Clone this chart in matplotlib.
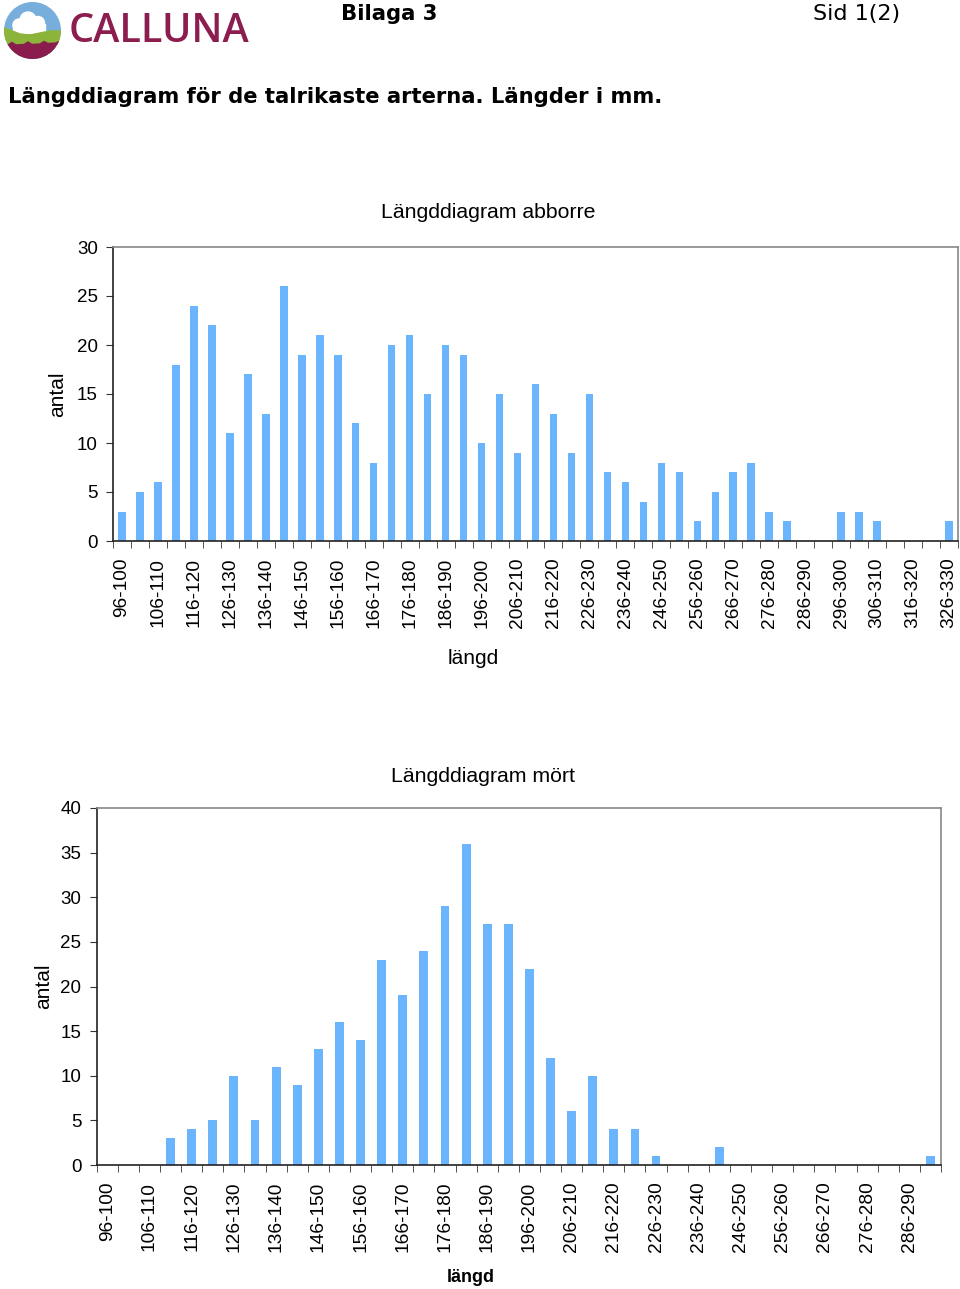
import matplotlib
matplotlib.use("Agg")
import matplotlib.pyplot as plt
import numpy as np
from matplotlib.patches import Circle, Polygon, Rectangle

# ---------------- data ----------------
abborre_bins = [f"{s}-{s+4}" for s in range(96, 327, 5)]
abborre_counts = [3, 5, 6, 18, 24, 22, 11, 17, 13, 26, 19, 21, 19, 12, 8, 20,
                  21, 15, 20, 19, 10, 15, 9, 16, 13, 9, 15, 7, 6, 4, 8, 7,
                  2, 5, 7, 8, 3, 2, 0, 0, 3, 3, 2, 0, 0, 0, 2]

mort_bins = [f"{s}-{s+4}" for s in range(96, 292, 5)]
mort_counts = [0, 0, 0, 3, 4, 5, 10, 5, 11, 9, 13, 16, 14, 23, 19, 24, 29,
               36, 27, 27, 22, 12, 6, 10, 4, 4, 1, 0, 0, 2, 0, 0, 0, 0, 0,
               0, 0, 0, 0, 1]

BAR = "#6BB5FF"
W, H = 960, 1289
fig = plt.figure(figsize=(W / 100, H / 100), dpi=100)
AX_FONT = "Liberation Sans"


def fx(px):
    return px / W


def fy(py):
    return 1 - py / H


def draw_chart(rect, bins, counts, ymax, ystep, title, title_xy, ylabel_xy,
               xlabel_xy, xlabel_bold):
    ax = fig.add_axes(rect)
    n = len(bins)
    x = np.arange(n)
    ax.bar(x, counts, width=0.42, color=BAR, zorder=2)
    ax.set_xlim(-0.5, n - 0.5)
    ax.set_ylim(0, ymax)
    ax.set_yticks(np.arange(0, ymax + 1, ystep))
    ax.set_xticks(x[::2])
    ax.set_xticklabels(bins[::2], rotation=90, fontsize=13.8, family=AX_FONT)
    ax.set_xticks(np.arange(-0.5, n, 1), minor=True)
    ax.tick_params(axis="x", which="major", length=0, pad=12)
    ax.tick_params(axis="x", which="minor", length=5, direction="out",
                   color="#333333")
    ax.tick_params(axis="y", length=5, direction="out", color="#333333",
                   labelsize=13.5, pad=6)
    for lab in ax.get_yticklabels():
        lab.set_family(AX_FONT)
    ax.spines["left"].set_color("#222222")
    ax.spines["bottom"].set_color("#222222")
    ax.spines["top"].set_color("#888888")
    ax.spines["right"].set_color("#888888")
    for s in ax.spines.values():
        s.set_linewidth(1.2)
    fig.text(fx(title_xy[0]), fy(title_xy[1]), title, ha="center",
             va="center", fontsize=15.3, family=AX_FONT)
    fig.text(fx(ylabel_xy[0]), fy(ylabel_xy[1]), "antal", ha="center",
             va="center", rotation=90, fontsize=15, family=AX_FONT)
    fig.text(fx(xlabel_xy[0]), fy(xlabel_xy[1]), "längd", ha="center",
             va="center", fontsize=15 if not xlabel_bold else 13,
             family=AX_FONT, fontweight="bold" if xlabel_bold else "normal")
    return ax


draw_chart([fx(113), fy(541), fx(958) - fx(113), fy(247) - fy(541)],
           abborre_bins, abborre_counts, 30, 5, "Längddiagram abborre",
           (488, 213), (58, 394), (473, 658), False)
draw_chart([fx(96.7), fy(1165), fx(941) - fx(96.7), fy(808) - fy(1165)],
           mort_bins, mort_counts, 40, 5, "Längddiagram mört",
           (483, 777), (44, 986), (471, 1278), True)

# ---------------- header ----------------
fig.text(fx(341), fy(14), "Bilaga 3", ha="left", va="center", fontsize=15.2,
         fontweight="bold", family="DejaVu Sans")
fig.text(fx(813), fy(14), "Sid 1(2)", ha="left", va="center", fontsize=16,
         family="DejaVu Sans")
fig.text(fx(8), fy(97), "Längddiagram för de talrikaste arterna. Längder i mm.",
         ha="left", va="center", fontsize=15.2, fontweight="bold",
         family="DejaVu Sans")
fig.text(fx(69), fy(32), "CALLUNA", ha="left", va="center", fontsize=28.5,
         fontweight="semibold", color="#8C1D4F", family="Open Sans")

# logo
lax = fig.add_axes([0, fy(62), fx(66), fy(0) - fy(62)])
lax.set_xlim(0, 66)
lax.set_ylim(62, 0)
lax.set_aspect("equal")
lax.axis("off")
clip = Circle((32.5, 30.5), 28.5, transform=lax.transData)
parts = [
    Rectangle((0, 0), 66, 62, color="#78AEDB"),
    Circle((19, 25), 6, color="white"),
    Circle((28, 20), 8, color="white"),
    Circle((38, 23), 6.5, color="white"),
    Rectangle((13, 24), 32, 9, color="white"),
    Polygon([(0, 27), (10, 30), (20, 34), (30, 35), (40, 33), (50, 31),
             (60, 31), (66, 33), (66, 62), (0, 62)], closed=True,
            color="#8DB43A"),
    Polygon([(0, 46), (8, 45), (12, 42.5), (16, 45), (24, 44.5), (28, 42),
             (32, 44.5), (40, 44), (44, 41.5), (48, 43.5), (56, 43),
             (60, 41), (66, 42), (66, 62), (0, 62)], closed=True,
            color="#8A1C4E"),
]
for p in parts:
    lax.add_patch(p)
    p.set_clip_path(clip)

fig.savefig("out.png", dpi=100)
